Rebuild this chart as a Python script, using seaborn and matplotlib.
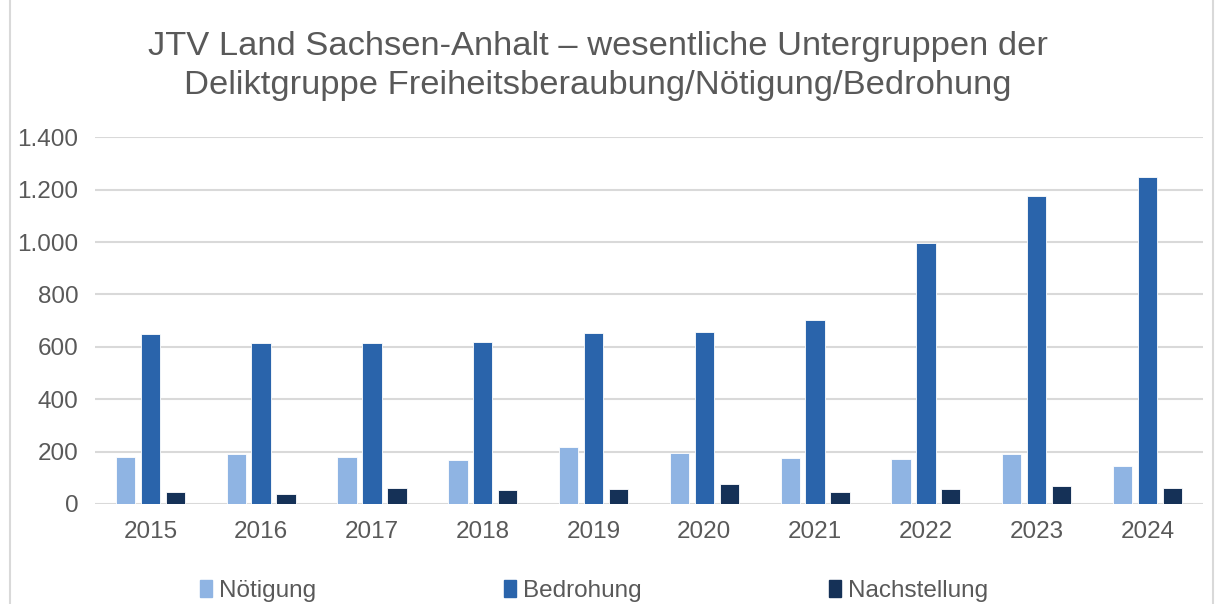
import pandas as pd
import matplotlib
matplotlib.use("Agg")
import matplotlib.pyplot as plt
import seaborn as sns
from matplotlib.patches import Rectangle

sns.set_theme(style="white")
plt.rcParams['font.family'] = ['Liberation Sans', 'DejaVu Sans']

years = ['2015', '2016', '2017', '2018', '2019', '2020', '2021', '2022', '2023', '2024']
noetigung = [181, 190, 178, 168, 216, 195, 177, 172, 190, 144]
bedrohung = [649, 613, 615, 617, 652, 655, 703, 997, 1175, 1250]
nachstellung = [47, 39, 61, 52, 59, 75, 47, 56, 67, 61]
series = ['Nötigung', 'Bedrohung', 'Nachstellung']
colors = ['#8FB4E3', '#2A64AB', '#153157']

df = pd.DataFrame({'Jahr': years, 'Nötigung': noetigung,
                   'Bedrohung': bedrohung, 'Nachstellung': nachstellung})
long = df.melt(id_vars='Jahr', var_name='Delikt', value_name='Anzahl')

fig = plt.figure(figsize=(12.15, 6.04), dpi=100)
ax = fig.add_axes([0.0782, 0.1656, 0.9118, 0.6071])

sns.barplot(data=long, x='Jahr', y='Anzahl', hue='Delikt', hue_order=series,
            palette=colors, saturation=1, width=0.674, gap=0.22, ax=ax,
            edgecolor='white', linewidth=0.6, zorder=3)

ax.set_ylim(0, 1400)
ax.set_xlim(-0.5, 9.5)
ax.set_yticks(range(0, 1401, 200))
ax.set_yticklabels([f"{v:,}".replace(',', '.') for v in range(0, 1401, 200)])
ax.yaxis.grid(True, color='#D9D9D9', linewidth=1.5, zorder=0)
ax.set_axisbelow(True)
for s in ['top', 'right', 'left', 'bottom']:
    ax.spines[s].set_visible(False)
ax.tick_params(axis='y', length=0, pad=12, labelsize=17.5, labelcolor='#595959')
ax.tick_params(axis='x', length=0, pad=12, labelsize=17.5, labelcolor='#595959')
ax.set_xlabel('')
ax.set_ylabel('')

ax.get_legend().remove()
handles = [Rectangle((0, 0), 1, 1, color=c) for c in colors]
fig.legend(handles, series, loc='center', bbox_to_anchor=(0.489, 0.022), ncol=3,
           frameon=False, fontsize=17.5, handlelength=0.5, handleheight=0.7,
           handletextpad=0.3, columnspacing=7.7, labelcolor='#595959')

fig.text(0.492, 0.890, 'JTV Land Sachsen-Anhalt – wesentliche Untergruppen der\n'
         'Deliktgruppe Freiheitsberaubung/Nötigung/Bedrohung',
         ha='center', va='center', fontsize=24.8, color='#595959', linespacing=1.33)

fig.patches.append(Rectangle((0.008, -0.01), 0.99, 1.02, transform=fig.transFigure,
                             fill=False, edgecolor='#D9D9D9', linewidth=1.5))

fig.savefig('out.png', dpi=100)
